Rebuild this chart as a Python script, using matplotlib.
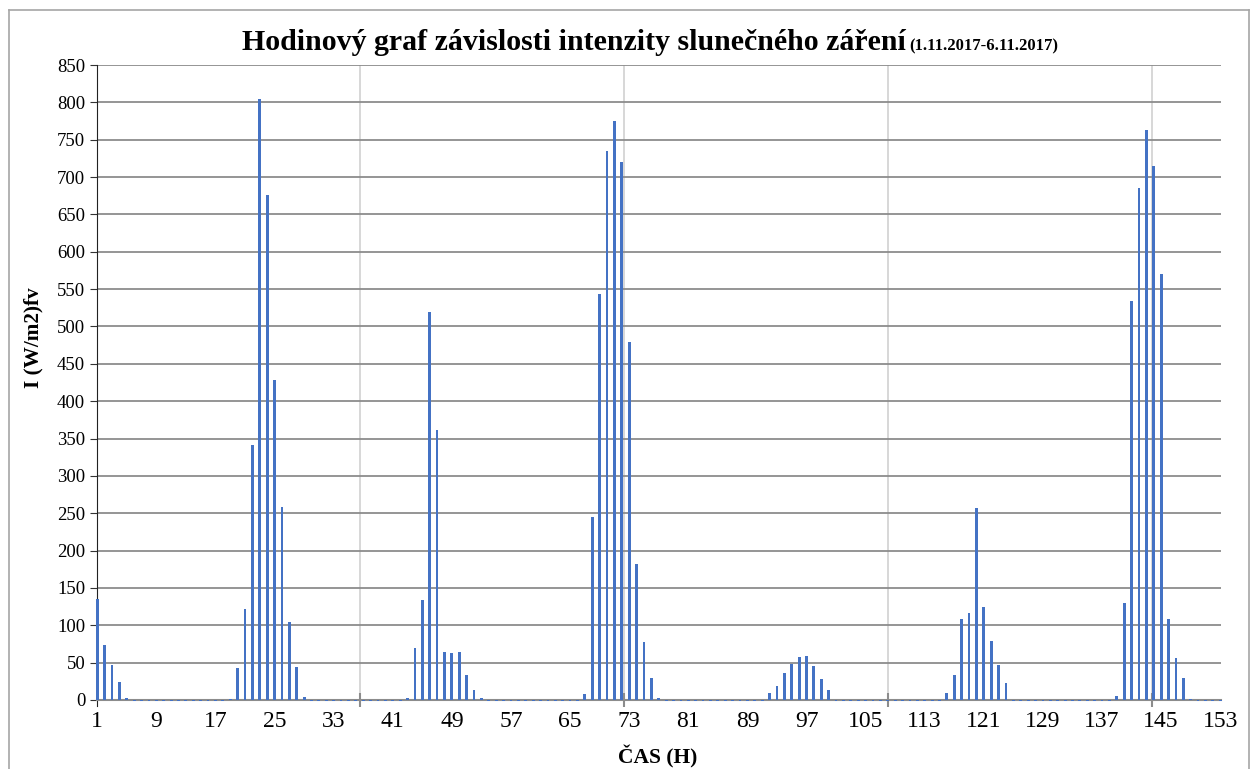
import matplotlib.pyplot as plt
from matplotlib.lines import Line2D

# hourly irradiance, 1.11.2017 - 6.11.2017 (night values are slightly negative)
hours = list(range(1, 154))
irradiance = [
    135, 74, 47, 24, 3, -2, -2, -2, -2, -2, -2, -2, -2, -2, -2, -2, -2, -2, 2, 43, 122, 341, 804, 676,
    428, 259, 104, 44, 4, -2, -2, -2, -2, -2, -2, -2, -2, -2, -2, -2, -2, -2, 3, 70, 134, 520, 361, 64,
    63, 64, 33, 14, 3, -2, -2, -2, -2, -2, -2, -2, -2, -2, -2, -2, -2, -2, 8, 245, 544, 735, 775, 720,
    479, 182, 78, 30, 3, -2, -2, -2, -2, -2, -2, -2, -2, -2, -2, -2, -2, -2, -2, 10, 19, 36, 48, 57,
    59, 45, 28, 13, -2, -2, -2, -2, -2, -2, -2, -2, -2, -2, -2, -2, -2, -2, -2, 10, 34, 108, 116, 257,
    124, 79, 47, 23, -2, -2, -2, -2, -2, -2, -2, -2, -2, -2, -2, -2, -2, -2, 6, 130, 534, 685, 763, 715,
    570, 109, 56, 30, 2, -2, -2, -2, -2,
]
x_labels = list(range(1, 154, 8))
y_ticks = list(range(0, 851, 50))

plt.rcParams['font.family'] = ['Liberation Serif', 'DejaVu Serif']

fig = plt.figure(figsize=(12.58, 7.69), dpi=100)
ax = fig.add_axes([97 / 1258, 1 - 700 / 769, 1124 / 1258, 635 / 769])

# thin excel-like columns
ax.bar(hours, irradiance, width=0.38, color='#4472C4', clip_on=False, zorder=3)

ax.set_xlim(0.97, 153.1)
ax.set_ylim(0, 850)

# horizontal gridlines + y axis
ax.set_yticks(y_ticks)
ax.yaxis.grid(True, color='#8C8C8C', linewidth=1.3)
ax.tick_params(axis='y', direction='out', length=5, color='#333333',
               labelsize=13.5, pad=3.5)

# category labels every 8 hours, vertical gridlines as minor ticks
ax.set_xticks(x_labels)
ax.tick_params(axis='x', which='major', length=0, labelsize=17, pad=8)
vgrid = [36.5, 72.3, 108.0, 143.8]
ax.set_xticks(vgrid, minor=True)
ax.xaxis.grid(True, which='minor', color='#D4D4D4', linewidth=1.3)
ax.tick_params(axis='x', which='minor', direction='inout', length=10,
               color='#8C8C8C', width=1.5)
ax.set_axisbelow(True)

for s in ['top', 'right']:
    ax.spines[s].set_visible(False)
ax.spines['left'].set_color('#222222')
ax.spines['left'].set_bounds(-8, 850)
ax.spines['bottom'].set_color('#8C8C8C')
ax.spines['bottom'].set_linewidth(1.5)

# title with smaller date part
fig.text(906 / 1258, 1 - 50 / 769, 'Hodinový graf závislosti intenzity slunečného záření',
         ha='right', va='baseline', fontsize=21.5, fontweight='bold')
fig.text(909 / 1258, 1 - 50 / 769, '(1.11.2017-6.11.2017)',
         ha='left', va='baseline', fontsize=12, fontweight='bold')

fig.text(33 / 1258, 1 - 338 / 769, 'I (W/m2)fv', rotation=90, ha='center', va='center',
         fontsize=15.3, fontweight='bold')
fig.text(658 / 1258, 1 - 757 / 769, 'ČAS (H)', ha='center', va='center',
         fontsize=15.5, fontweight='bold')

# outer chart border
bc = '#A6A6A6'
fig.add_artist(Line2D([9 / 1258, 1249 / 1258], [1 - 10 / 769] * 2, color=bc, lw=1.2))
fig.add_artist(Line2D([9 / 1258] * 2, [0, 1 - 10 / 769], color=bc, lw=1.2))
fig.add_artist(Line2D([1249 / 1258] * 2, [0, 1 - 10 / 769], color=bc, lw=1.2))

fig.savefig('out.png', dpi=100)
